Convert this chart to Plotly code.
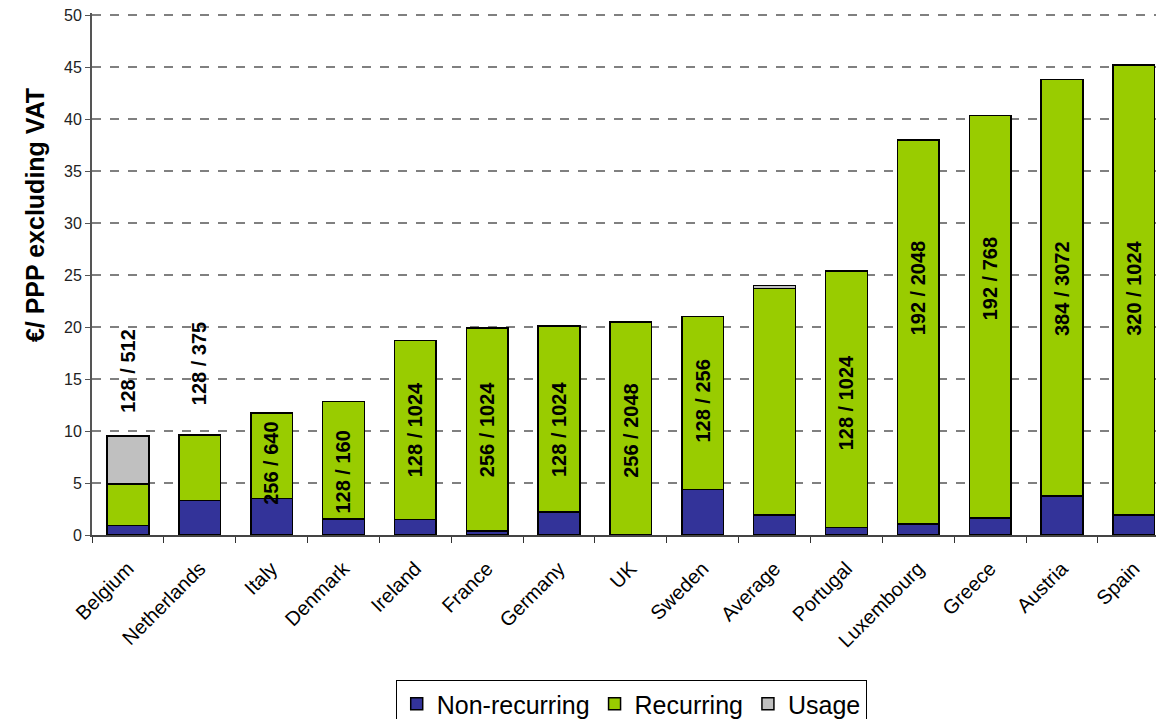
import plotly.graph_objects as go

# datos (EUR / PPP sin IVA)
countries = ["Belgium", "Netherlands", "Italy", "Denmark", "Ireland", "France", "Germany",
             "UK", "Sweden", "Average", "Portugal", "Luxembourg", "Greece", "Austria", "Spain"]
non_recurring = [0.9, 3.3, 3.5, 1.55, 1.5, 0.4, 2.2, 0.0, 4.4, 1.9, 0.7, 1.05, 1.65, 3.75, 1.9]
recurring = [4.0, 6.3, 8.25, 11.3, 17.2, 19.5, 17.9, 20.5, 16.6, 21.8, 24.7, 36.95, 38.7, 40.05, 43.3]
usage = [4.6, 0, 0, 0, 0, 0, 0, 0, 0, 0.3, 0, 0, 0, 0, 0]

# etiquetas de velocidad (kbit/s) y altura aproximada donde aparecen
speed_labels = ["128 / 512", "128 / 375", "256 / 640", "128 / 160", "128 / 1024", "256 / 1024",
                "128 / 1024", "256 / 2048", "128 / 256", "", "128 / 1024", "192 / 2048",
                "192 / 768", "384 / 3072", "320 / 1024"]
label_y = [15.8, 16.5, 6.9, 6.05, 10.1, 10.1, 10.1, 10.1, 12.9, 0, 12.7, 23.75, 24.6, 23.75, 23.75]

FONT = "Liberation Sans, Arial, sans-serif"

fig = go.Figure()

series = [
    ("Non-recurring", non_recurring, "#333399"),
    ("Recurring", recurring, "#99CC00"),
    ("Usage", usage, "#C0C0C0"),
]
for name, vals, color in series:
    fig.add_trace(go.Bar(
        x=countries,
        y=vals,
        name=name,
        marker=dict(color=color, line=dict(color="black", width=1.5)),
    ))

for c, txt, yv in zip(countries, speed_labels, label_y):
    if not txt:
        continue
    fig.add_annotation(
        x=c, y=yv, text=txt, textangle=-90, showarrow=False,
        font=dict(family=FONT, size=20, color="black", weight="bold"),
    )

# titulo del eje Y (desplazado hacia arriba como en el original)
fig.add_annotation(
    xref="paper", yref="paper", x=-0.068, y=0.613,
    text="€/ PPP excluding VAT", textangle=-90, showarrow=False,
    font=dict(family=FONT, size=25, color="black", weight="bold"),
)

# la pagina tiene 8px de margen en el body -> figura 8px mas pequeña
fig.update_layout(
    barmode="stack",
    bargap=0.42,
    width=1156,
    height=711,
    paper_bgcolor="white",
    plot_bgcolor="white",
    font=dict(family=FONT, color="black"),
    margin=dict(l=84, r=0, t=5, b=184, autoexpand=False),
    showlegend=True,
    legend=dict(
        orientation="h",
        traceorder="normal",
        x=0.503, xanchor="center",
        y=-0.278, yanchor="top",
        font=dict(family=FONT, size=25, color="black"),
        bordercolor="black", borderwidth=1,
        itemwidth=30,
        tracegroupgap=0,
    ),
    xaxis=dict(
        range=[-0.5, 14.42],
        automargin=False,
        tickangle=-45,
        tickfont=dict(family=FONT, size=20, color="black"),
        ticks="outside", tickson="boundaries", ticklen=6,
        ticklabelstandoff=12,
        tickcolor="#333", showline=True, linecolor="#444", linewidth=2,
        showgrid=False,
    ),
    yaxis=dict(
        range=[0, 50.2], tick0=0, dtick=5,
        automargin=False,
        ticklabeloverflow="allow",
        tickfont=dict(family=FONT, size=16, color="#222"),
        ticks="outside", ticklen=5, tickcolor="#555",
        showline=True, linecolor="#555", linewidth=2,
        showgrid=True, gridcolor="#808080", gridwidth=1.5, griddash="dash",
        zeroline=False,
    ),
)

fig.write_html("out.html")
